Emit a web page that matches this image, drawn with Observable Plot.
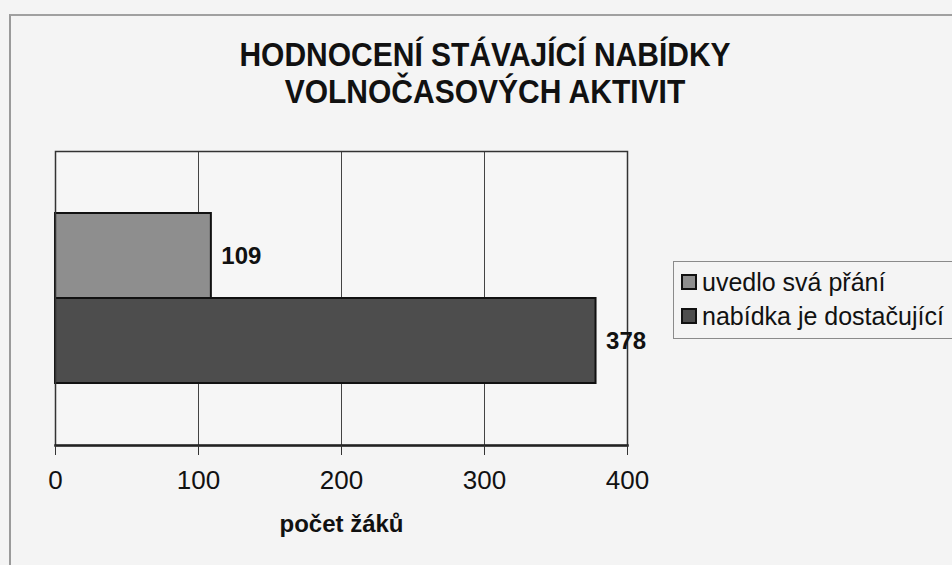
<!DOCTYPE html>
<html>
<head>
<meta charset="utf-8">
<script src="https://cdn.jsdelivr.net/npm/d3@7"></script>
<script src="https://cdn.jsdelivr.net/npm/@observablehq/plot@0.6"></script>
<style>
  html, body { margin: 0; padding: 0; background: #f4f4f4; }
  #page { position: relative; width: 952px; height: 565px; overflow: hidden; background: #f4f4f4; font-family: "Liberation Sans", Arial, sans-serif; }
  #sheet { position: absolute; left: 9px; top: 14px; width: 960px; height: 600px; border-left: 2px solid #9a9a9a; border-top: 2px solid #a0a0a0; }
  #title { position: absolute; left: 0; width: 970px; top: 36px; text-align: center; font-family: "Liberation Sans", Arial, sans-serif; font-weight: bold; font-size: 30px; line-height: 34px; color: #111; transform: scale(1, 1.1); transform-origin: 50% 0; }
  #legend { position: absolute; left: 673px; top: 261px; width: 300px; height: 76px; border: 1px solid #8a8a8a; background: #f4f4f4; }
  .item { position: absolute; left: 7px; font-size: 25px; color: #111; white-space: nowrap; line-height: 28px; }
  .sw { display: inline-block; width: 12px; height: 12px; border: 2px solid #111; vertical-align: 1px; margin-right: 5px; }
  #chart { position: absolute; left: 0; top: 0; }
</style>
</head>
<body>
<div id="page">
  <div id="sheet"></div>
  <div id="chart"></div>
  <div id="title"></div>
  <div id="legend"></div>
</div>
<script>
const titleLines = ["HODNOCENÍ STÁVAJÍCÍ NABÍDKY", "VOLNOČASOVÝCH AKTIVIT"];
const categories = ["uvedlo svá přání", "nabídka je dostačující"];
const values = [109, 378];
const colors = ["#8e8e8e", "#4d4d4d"];
const xTicks = [0, 100, 200, 300, 400];
const xLabel = "počet žáků";

document.getElementById("title").innerHTML = titleLines.join("<br>");

const legend = document.getElementById("legend");
categories.forEach((c, i) => {
  const d = document.createElement("div");
  d.className = "item";
  d.style.top = (6 + i * 34) + "px";
  d.innerHTML = `<span class="sw" style="background:${colors[i]}"></span>${c}`;
  legend.appendChild(d);
});

const data = categories.map((c, i) => ({category: c, value: values[i]}));

const chart = Plot.plot({
  width: 952,
  height: 565,
  marginLeft: 55,
  marginRight: 325,
  marginTop: 151,
  marginBottom: 120,
  style: {background: "transparent", fontFamily: "'Liberation Sans', Arial, sans-serif", color: "#111"},
  x: {domain: [0, 400], ticks: xTicks},
  y: {domain: categories, paddingInner: 0, paddingOuter: 0.71, axis: null},
  color: {domain: categories, range: colors},
  marks: [
    Plot.frame({fill: "#f6f6f6", stroke: "none"}),
    Plot.gridX(xTicks, {stroke: "#444", strokeOpacity: 1, strokeWidth: 1}),
    Plot.barX(data, {x: "value", y: "category", fill: "category", stroke: "#111", strokeWidth: 2}),
    Plot.frame({stroke: "#333", strokeWidth: 1.5}),
    Plot.frame({anchor: "bottom", stroke: "#222", strokeWidth: 2.5}),
    Plot.axisX(xTicks, {tickSize: 10, tickPadding: 15, fontSize: 26, stroke: "#333", label: null}),
    Plot.text([xLabel], {frameAnchor: "bottom", dy: 86, text: d => d, fontSize: 24, fontWeight: "bold"}),
    Plot.text(data, {x: "value", y: "category", text: d => String(d.value), dx: 10, textAnchor: "start", fontSize: 24, fontWeight: "bold"})
  ]
});
document.getElementById("chart").appendChild(chart);
</script>
</body>
</html>
